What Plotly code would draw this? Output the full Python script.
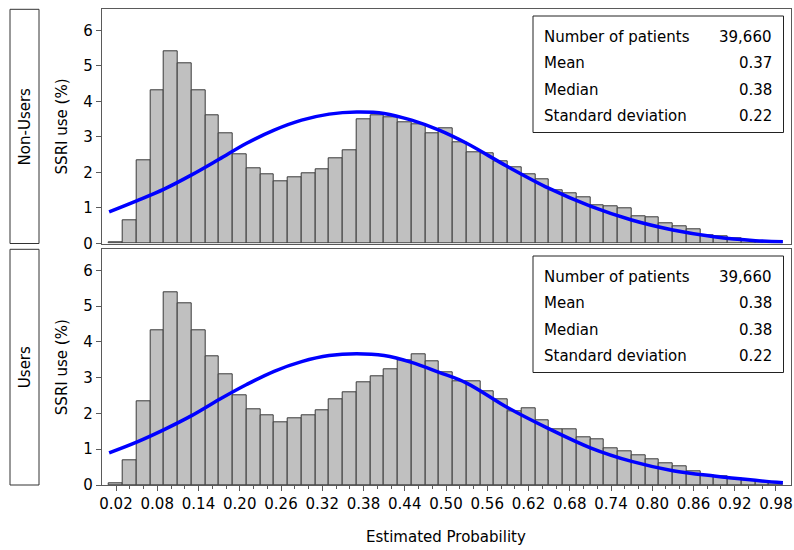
import plotly.graph_objects as go

# ---------------- data ----------------
bin_centers = [round(0.02 * (i + 1), 2) for i in range(49)]

nonusers_pct = [0.04, 0.66, 2.34, 4.32, 5.42, 5.08, 4.32, 3.60, 3.10, 2.51,
                2.11, 1.94, 1.75, 1.86, 1.97, 2.09, 2.39, 2.62, 3.49, 3.60,
                3.55, 3.41, 3.36, 3.10, 3.23, 2.86, 2.58, 2.54, 2.31, 2.14,
                1.94, 1.82, 1.50, 1.41, 1.30, 1.07, 1.05, 0.98, 0.77, 0.74,
                0.58, 0.49, 0.41, 0.22, 0.19, 0.15, 0.10, 0.06, 0.03]

users_pct = [0.06, 0.68, 2.35, 4.33, 5.38, 5.09, 4.33, 3.60, 3.10, 2.51,
             2.12, 1.96, 1.76, 1.87, 1.96, 2.10, 2.40, 2.60, 2.88, 3.04,
             3.24, 3.50, 3.66, 3.46, 3.14, 2.91, 2.91, 2.63, 2.41, 2.05,
             2.15, 1.80, 1.56, 1.57, 1.34, 1.29, 1.04, 0.93, 0.84, 0.72,
             0.62, 0.51, 0.37, 0.28, 0.23, 0.19, 0.14, 0.09, 0.06]

curve_x = [0.01, 0.05, 0.09, 0.13, 0.17, 0.21, 0.25, 0.29, 0.33, 0.37, 0.41,
           0.45, 0.49, 0.53, 0.59, 0.65, 0.71, 0.77, 0.83, 0.89, 0.95, 0.99]
nonusers_curve = [0.89, 1.20, 1.53, 1.93, 2.37, 2.82, 3.19, 3.47, 3.64, 3.70, 3.66,
                  3.47, 3.19, 2.82, 2.16, 1.55, 1.05, 0.66, 0.38, 0.19, 0.08, 0.05]
users_curve = [0.90, 1.20, 1.55, 1.94, 2.39, 2.81, 3.18, 3.45, 3.62, 3.67, 3.62,
               3.43, 3.15, 2.85, 2.16, 1.57, 1.04, 0.66, 0.40, 0.25, 0.13, 0.06]

x_tick_vals = [0.02, 0.08, 0.14, 0.20, 0.26, 0.32, 0.38, 0.44, 0.50,
               0.56, 0.62, 0.68, 0.74, 0.80, 0.86, 0.92, 0.98]
x_tick_text = ["0.02", "0.08", "0.14", "0.20", "0.26", "0.32", "0.38", "0.44", "0.50",
               "0.56", "0.62", "0.68", "0.74", "0.80", "0.86", "0.92", "0.98"]
y_tick_vals = [0, 1, 2, 3, 4, 5, 6]

panel_labels = ["Non-Users", "Users"]
stat_labels = ["Number of patients", "Mean", "Median", "Standard deviation"]
nonusers_stats = ["39,660", "0.37", "0.38", "0.22"]
users_stats = ["39,660", "0.38", "0.38", "0.22"]

# ---------------- layout helpers ----------------
W, H = 794, 550
FONT = "DejaVu Sans"
FRAME = "#5a5a5a"


def px(x):
    return x / W


def py(y):
    return 1 - y / H


# panel pixel boxes (top, bottom)
panels = [(9.3, 243.5), (249.3, 485.0)]
plot_left, plot_right = 101.7, 790.5

fig = go.Figure()

series = [(nonusers_pct, nonusers_curve, "x2", "y2"),
          (users_pct, users_curve, "x", "y")]
for vals, curve, xa, ya in series:
    fig.add_trace(go.Bar(x=bin_centers, y=vals, width=0.02, xaxis=xa, yaxis=ya,
                         marker=dict(color="#C0C0C0", line=dict(color="#3a3a3a", width=1)),
                         showlegend=False, hoverinfo="skip"))
    fig.add_trace(go.Scatter(x=curve_x, y=curve, xaxis=xa, yaxis=ya, mode="lines",
                             line=dict(color="#0000FF", width=3.5, shape="spline", smoothing=1.0),
                             showlegend=False, hoverinfo="skip"))

xdom = [px(plot_left), px(plot_right)]
xrange = [-0.0008, 1.0011]
yax_common = dict(range=[0, 6.59], tickvals=y_tick_vals, ticks="outside", ticklen=5,
                  tickcolor=FRAME, showline=True, linecolor=FRAME, linewidth=1, mirror=True,
                  showgrid=False, zeroline=False, automargin=False,
                  tickfont=dict(family=FONT, size=15, color="#000"))

fig.update_layout(
    width=W, height=H, autosize=False, margin=dict(l=0, r=0, t=0, b=0, pad=0),
    paper_bgcolor="white", plot_bgcolor="white", bargap=0, showlegend=False,
    font=dict(family=FONT, size=15, color="#000"),
    xaxis=dict(domain=xdom, range=xrange, anchor="y", tickvals=x_tick_vals, ticktext=x_tick_text,
               ticks="outside", ticklen=5, tickcolor=FRAME, showline=True, linecolor=FRAME,
               linewidth=1, mirror=True, showgrid=False, zeroline=False, automargin=False,
               minor=dict(tickvals=bin_centers, ticks="outside", ticklen=3, tickcolor=FRAME),
               tickfont=dict(family=FONT, size=15, color="#000")),
    xaxis2=dict(domain=xdom, range=xrange, anchor="y2", showticklabels=False, ticks="",
                showline=True, linecolor=FRAME, linewidth=1, mirror=True, showgrid=False,
                zeroline=False, matches="x", automargin=False),
    yaxis=dict(domain=[py(panels[1][1]), py(panels[1][0])], anchor="x", **yax_common),
    yaxis2=dict(domain=[py(panels[0][1]), py(panels[0][0])], anchor="x2", **yax_common),
)

shapes = []
annotations = []
for i, (top, bot) in enumerate(panels):
    # row label box
    shapes.append(dict(type="rect", xref="paper", yref="paper", x0=px(10), x1=px(39),
                       y0=py(bot), y1=py(top), line=dict(color="#333333", width=1)))
    annotations.append(dict(text=panel_labels[i], xref="paper", yref="paper",
                            x=px(25), y=py((top + bot) / 2), textangle=-90, showarrow=False,
                            xanchor="center", yanchor="middle",
                            font=dict(family=FONT, size=15, color="#000")))
    # y-axis title
    annotations.append(dict(text="SSRI use (%)", xref="paper", yref="paper",
                            x=px(62), y=py((top + bot) / 2), textangle=-90, showarrow=False,
                            xanchor="center", yanchor="middle",
                            font=dict(family=FONT, size=15, color="#000")))
    # statistics inset
    off = top - 9.3
    box_top, box_bot = 16 + off, 132.5 + off
    shapes.append(dict(type="rect", xref="paper", yref="paper", x0=px(533), x1=px(783.5),
                       y0=py(box_bot), y1=py(box_top), line=dict(color="#222222", width=1),
                       fillcolor="white", layer="above"))
    vals = nonusers_stats if i == 0 else users_stats
    for r, (lab, v) in enumerate(zip(stat_labels, vals)):
        yc = 36.5 + off + r * 26.6
        annotations.append(dict(text=lab, xref="paper", yref="paper", x=px(542), y=py(yc),
                                xanchor="left", yanchor="middle", showarrow=False,
                                font=dict(family=FONT, size=15, color="#000")))
        annotations.append(dict(text=v, xref="paper", yref="paper", x=px(774), y=py(yc),
                                xanchor="right", yanchor="middle", showarrow=False,
                                font=dict(family=FONT, size=15, color="#000")))

annotations.append(dict(text="Estimated Probability", xref="paper", yref="paper",
                        x=px(446), y=py(537), showarrow=False,
                        xanchor="center", yanchor="middle",
                        font=dict(family=FONT, size=15, color="#000")))

fig.update_layout(shapes=shapes, annotations=annotations)
fig.write_html("out.html",
               config={"displayModeBar": False, "responsive": False},
               default_width="794px", default_height="550px",
               post_script="document.body.style.margin='0px';document.body.style.padding='0px';")
